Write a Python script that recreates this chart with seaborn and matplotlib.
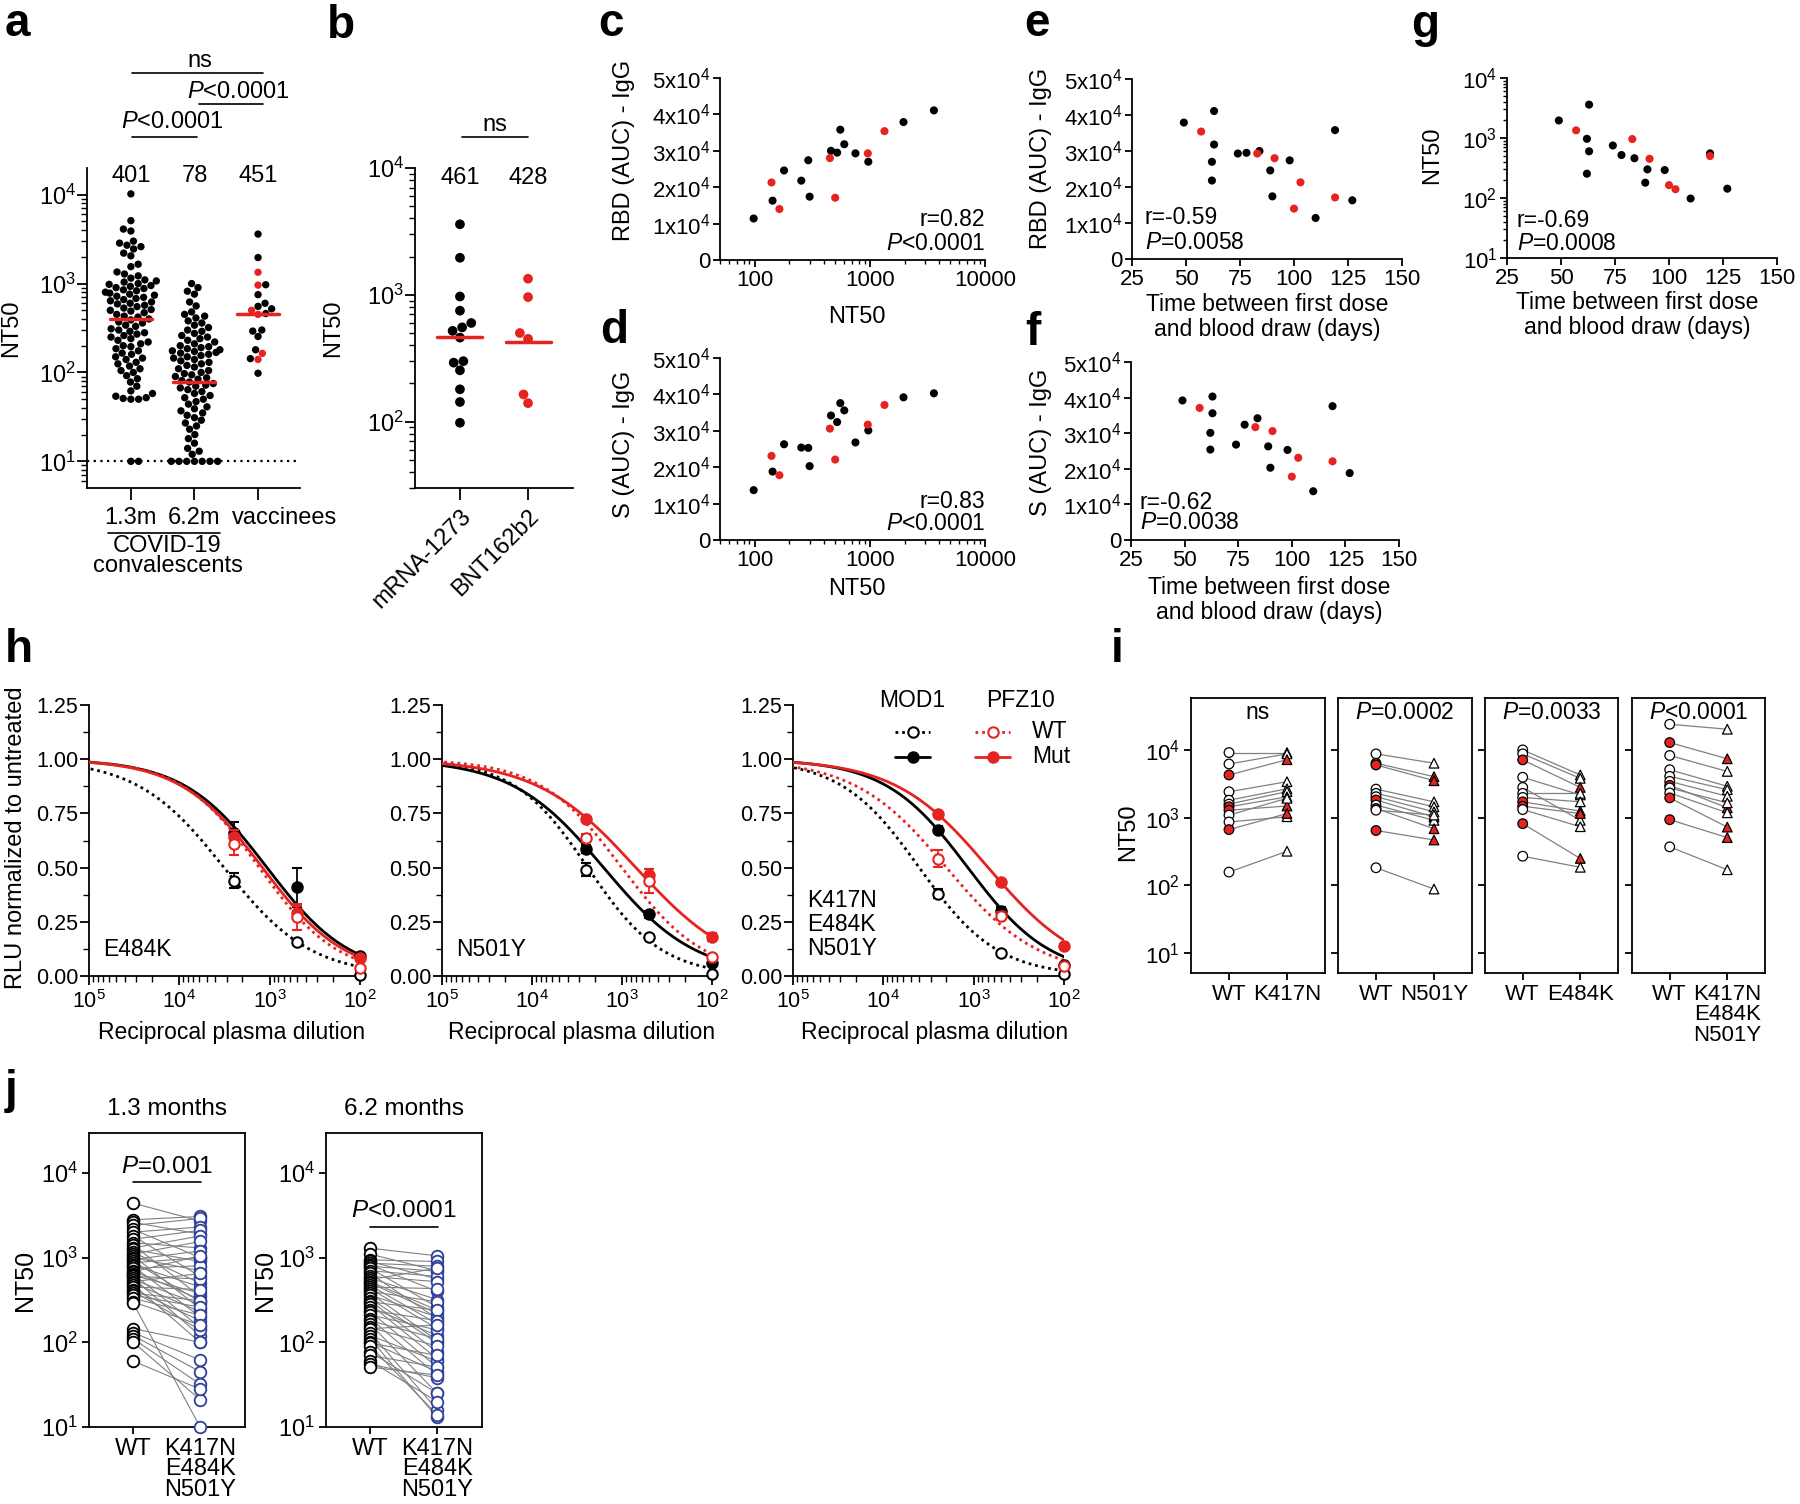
import warnings

import matplotlib
matplotlib.use("Agg")
import matplotlib.pyplot as plt
import matplotlib.ticker as mticker
import matplotlib.transforms as mtransforms
import numpy as np
import pandas as pd
import seaborn as sns
from matplotlib.lines import Line2D

warnings.filterwarnings("ignore")

RED = "#e52421"
BLUE = "#2f4099"
GREY = "#808080"

# ---------------- data ----------------
# panel a: convalescent plasma NT50 at 1.3 and 6.2 months
conv_13m = [10200, 5100, 4100, 3900, 3000, 2850, 2700, 2600, 2450, 2200, 2050, 1650, 1550,
            1350, 1280, 1220, 1150, 1100, 1070, 1040, 1000, 980, 950, 930, 900, 880, 850,
            830, 800, 780, 760, 740, 720, 700, 680, 660, 640, 620, 600, 590, 570, 550, 530,
            510, 500, 490, 470, 450, 430, 420, 400, 390, 370, 360, 340, 330, 310, 300, 290,
            280, 270, 260, 250, 240, 230, 220, 210, 200, 195, 185, 175, 165, 160, 150, 145,
            140, 130, 125, 118, 110, 105, 100, 92, 85, 78, 70, 62, 58, 54, 52, 51, 50, 50,
            10, 10]
conv_62m = [1000, 900, 820, 760, 620, 560, 480, 450, 430, 410, 380, 360, 340, 320, 300, 290,
            275, 260, 250, 240, 230, 220, 210, 200, 195, 190, 185, 180, 175, 172, 168, 165,
            160, 155, 150, 145, 140, 135, 130, 125, 120, 115, 110, 105, 100, 97, 94, 90, 87,
            84, 81, 78, 75, 72, 70, 67, 64, 61, 58, 55, 52, 50, 47, 44, 41, 39, 37, 35, 33,
            31, 29, 27, 25, 23, 20, 18, 16, 14, 13, 12, 10, 10, 10, 10, 10, 10, 10]
a_groups = ["1.3m", "6.2m", "vaccinees"]
a_gm = [401, 78, 451]

# vaccinees, one entry per volunteer (panels a-g)
vac_type = ["mRNA-1273"] * 14 + ["BNT162b2"] * 6
vac_days = [49, 63, 62, 63, 62, 74, 78, 84, 89, 90, 98, 110, 119, 127,
            57, 83, 91, 100, 103, 119]
vac_nt50 = [1960, 3600, 970, 600, 254, 750, 520, 460, 180, 300, 292, 98, 554, 143,
            1340, 960, 450, 164, 140, 500]
vac_rbd = [37900, 41100, 27000, 31800, 21800, 29300, 29500, 30000, 24600, 17400, 27400,
           11400, 35800, 16300, 35400, 29300, 28000, 14000, 21300, 17100]
vac_s = [39200, 40300, 30100, 35600, 25400, 26800, 32400, 34200, 26300, 20300, 25300,
         13700, 37600, 18800, 37100, 31700, 30600, 17800, 23100, 22100]
b_groups = ["mRNA-1273", "BNT162b2"]
b_gm = [461, 428]
stats_c = ["r=0.82", "$P$<0.0001"]
stats_d = ["r=0.83", "$P$<0.0001"]
stats_e = ["r=-0.59", "$P$=0.0058"]
stats_f = ["r=-0.62", "$P$=0.0038"]
stats_g = ["r=-0.69", "$P$=0.0008"]

# panel h: neutralisation curves, dilutions 2500, 500, 100
h_dil = [2500, 500, 100]
h_names = ["E484K", "N501Y", "K417N\nE484K\nN501Y"]
mod1_wt = [[0.44, 0.155, 0.005], [0.49, 0.18, 0.01], [0.38, 0.107, 0.01]]
mod1_wt_sem = [[0.035, 0.01, 0.005], [0.03, 0.01, 0.005], [0.02, 0.01, 0.005]]
mod1_mut = [[0.66, 0.41, 0.09], [0.586, 0.284, 0.06], [0.675, 0.30, 0.05]]
mod1_mut_sem = [[0.05, 0.09, 0.01], [0.02, 0.015, 0.01], [0.015, 0.02, 0.01]]
pfz_wt = [[0.607, 0.274, 0.035], [0.636, 0.437, 0.087], [0.541, 0.276, 0.046]]
pfz_wt_sem = [[0.05, 0.06, 0.01], [0.02, 0.055, 0.01], [0.04, 0.02, 0.01]]
pfz_mut = [[0.643, 0.292, 0.085], [0.724, 0.465, 0.18], [0.747, 0.433, 0.138]]
pfz_mut_sem = [[0.03, 0.03, 0.01], [0.01, 0.03, 0.02], [0.01, 0.01, 0.01]]
# fitted curves (NT50, hill slope)
mod1_wt_fit = [(3200, 0.9), (2400, 1.05), (4000, 1.0)]
mod1_mut_fit = [(1070, 0.94), (1600, 0.85), (1160, 0.95)]
pfz_wt_fit = [(1300, 1.0), (1000, 0.95), (2000, 0.85)]
pfz_mut_fit = [(1200, 0.95), (700, 0.78), (690, 0.84)]

# panel i: paired NT50, WT vs mutant pseudovirus (1 = BNT162b2 volunteer)
i_mutants = ["K417N", "N501Y", "E484K", "K417N\nE484K\nN501Y"]
i_pvals = ["ns", "$P$=0.0002", "$P$=0.0033", "$P$<0.0001"]
i_wt = [[9300, 6300, 4330, 2440, 1830, 1600, 1460, 1300, 1100, 870, 670, 157],
        [8900, 6470, 6100, 2670, 2310, 2060, 1840, 1550, 1380, 1300, 650, 182],
        [10200, 8900, 7250, 4000, 2830, 2310, 2010, 1730, 1490, 1330, 820, 270],
        [24500, 13100, 8430, 5180, 4130, 3480, 3040, 2780, 2340, 1980, 940, 372]]
i_mut = [[9300, 8900, 7300, 3440, 2700, 2450, 2050, 1500, 1950, 1040, 1160, 320],
         [6470, 4090, 3560, 1730, 1460, 1230, 1030, 920, 690, 1100, 470, 88],
         [4330, 3860, 2830, 2190, 920, 2310, 1730, 1260, 1160, 740, 250, 185],
         [20650, 7530, 4890, 2940, 2620, 2090, 1410, 1670, 1190, 730, 510, 170]]
i_bnt = [[0, 0, 1, 0, 0, 0, 1, 1, 0, 0, 1, 0],
         [0, 1, 1, 0, 0, 0, 1, 0, 1, 0, 1, 0],
         [0, 0, 1, 0, 0, 0, 0, 1, 1, 0, 1, 0],
         [0, 1, 0, 0, 0, 0, 1, 0, 0, 1, 1, 0]]

# panel j: convalescents WT vs K417N/E484K/N501Y
j_titles = ["1.3 months", "6.2 months"]
j_pvals = ["$P$=0.001", "$P$<0.0001"]
j13_wt = [4400, 2800, 2600, 2400, 2150, 2000, 1800, 1650, 1500, 1400, 1300, 1250, 1150, 1100,
          1050, 1000, 950, 900, 870, 820, 790, 750, 700, 680, 640, 620, 600, 570, 550, 520,
          500, 480, 450, 420, 400, 380, 360, 330, 300, 290, 145, 130, 120, 110, 100, 60]
j13_mut = [2700, 3060, 1900, 2900, 1000, 2300, 600, 2100, 1300, 350, 1800, 900, 500, 1550,
           250, 700, 1200, 300, 1000, 450, 200, 800, 320, 1050, 150, 380, 560, 120, 280, 650,
           230, 100, 420, 180, 140, 310, 260, 210, 160, 10, 100, 62, 45, 32, 21, 28]
j62_wt = [1290, 1100, 940, 900, 860, 820, 790, 750, 700, 650, 600, 570, 550, 520, 500, 470,
          450, 430, 400, 380, 360, 330, 310, 300, 280, 260, 240, 230, 210, 190, 180, 165,
          150, 145, 130, 120, 110, 100, 98, 90, 77, 70, 60, 55, 51]
j62_mut = [1050, 700, 900, 560, 790, 400, 690, 260, 600, 190, 520, 320, 750, 240, 220, 165,
           430, 145, 300, 105, 200, 98, 77, 240, 64, 120, 180, 51, 140, 41, 110, 25, 90, 160,
           16, 60, 13, 45, 70, 14, 25, 51, 20, 38, 41]

# ---------------- style ----------------
sns.set_theme(style="ticks", rc={
    "axes.edgecolor": "black", "axes.labelcolor": "black", "text.color": "black",
    "xtick.color": "black", "ytick.color": "black", "axes.linewidth": 1.3,
})
plt.rcParams["font.family"] = ["Liberation Sans", "DejaVu Sans"]
plt.rcParams["mathtext.fontset"] = "custom"
plt.rcParams["mathtext.rm"] = "Liberation Sans"
plt.rcParams["mathtext.it"] = "Liberation Sans:italic"
plt.rcParams["mathtext.bf"] = "Liberation Sans:bold"

W, H = 1800, 1504
fig = plt.figure(figsize=(18, 15.04), dpi=100)
vac_pal = {"conv": "black", "mRNA-1273": "black", "BNT162b2": RED}


def add_ax(l, t, r, b):
    return fig.add_axes([l / W, 1 - b / H, (r - l) / W, (b - t) / H])


def ylab(ax, text, x, y, size=17):
    ax.set_ylabel(text, fontsize=size, va="center", ha="center")
    ax.yaxis.set_label_coords(x / W, 1 - y / H, transform=fig.transFigure)


def xlab(ax, text, x, y, size=16, **kw):
    ax.set_xlabel(text, fontsize=size, va="center", ha="center", **kw)
    ax.xaxis.set_label_coords(x / W, 1 - y / H, transform=fig.transFigure)


def letter(ch, x, y):
    fig.text(x / W, 1 - y / H, ch, fontsize=33, fontweight="bold", va="baseline", ha="left")


def ticks(ax, major=5, minor=3, size=16, pad=2):
    ax.tick_params(which="major", length=major, width=1.3, labelsize=size, pad=pad)
    ax.tick_params(which="minor", length=minor, width=1.0)


def log_minor(axis):
    axis.set_minor_locator(mticker.LogLocator(base=10, subs=np.arange(2, 10), numticks=100))
    axis.set_minor_formatter(mticker.NullFormatter())


def sci_labels(vals):
    return ["0" if v == 0 else f"{int(v / 1e4)}x10$^{{4}}$" for v in vals]


def bracket(ax, x0, x1, yl, xt, yt, text, size=17):
    tr = mtransforms.blended_transform_factory(ax.transData, ax.transAxes)
    ax.plot([x0, x1], [yl, yl], transform=tr, color="black", lw=1.2, clip_on=False)
    ax.text(xt, yt, text, transform=tr, ha="center", va="center", fontsize=size)


# ---------------- a ----------------
ax = add_ax(87, 168, 300, 488)
ax.set_yscale("log")
df_a = pd.DataFrame({
    "group": ["1.3m"] * len(conv_13m) + ["6.2m"] * len(conv_62m) + ["vaccinees"] * len(vac_nt50),
    "nt50": conv_13m + conv_62m + vac_nt50,
    "kind": ["conv"] * (len(conv_13m) + len(conv_62m)) + vac_type,
})
sns.swarmplot(data=df_a, x="group", y="nt50", hue="kind", order=a_groups, palette=vac_pal,
              size=5.3, legend=False, ax=ax, zorder=3)
ax.set_xlim(-0.69, 2.66)
ax.set_ylim(10 ** 0.7, 10 ** 4.3)
ax.axhline(10, color="black", ls=(0, (1, 2)), lw=1.6, zorder=1)
tr = mtransforms.blended_transform_factory(ax.transData, ax.transAxes)
for i, gm in enumerate(a_gm):
    ax.plot([i - 0.33, i + 0.33], [gm, gm], color=RED, lw=2.5, zorder=4)
    ax.text(i, 0.975, str(gm), transform=tr, ha="center", va="center", fontsize=17)
bracket(ax, 0.02, 1.04, 1.097, 0.65, 1.144, "$P$<0.0001")
bracket(ax, 1.07, 2.08, 1.2, 1.69, 1.2375, "$P$<0.0001")
bracket(ax, 0.02, 2.08, 1.297, 1.08, 1.334, "ns")
ax.set_yticks([10, 100, 1000, 10000])
log_minor(ax.yaxis)
ax.set_xticks([0, 1, 2])
ax.set_xticklabels(a_groups)
ax.set_xlabel("")
ticks(ax, major=7, minor=4, size=17, pad=1)
ax.tick_params(axis="x", length=8.5, pad=5)
# "vaccinees" sits to the right of its tick, as in the original layout
vac_lbl = ax.get_xticklabels()[2]
vac_lbl.set_ha("left")
vac_lbl.set_transform(vac_lbl.get_transform()
                      + mtransforms.ScaledTranslation(-0.26, 0, fig.dpi_scale_trans))
sns.despine(ax=ax)
ylab(ax, "NT50", 11, 328)
fig.add_artist(Line2D([108 / W, 220 / W], [1 - 533 / H] * 2, transform=fig.transFigure,
                      color="black", lw=1.2))
fig.text(167 / W, 1 - 546 / H, "COVID-19", fontsize=17, ha="center", va="center")
fig.text(168 / W, 1 - 566 / H, "convalescents", fontsize=17, ha="center", va="center")
letter("a", 5, 36)

# ---------------- b ----------------
ax = add_ax(415, 168, 573, 488)
ax.set_yscale("log")
df_b = pd.DataFrame({"vaccine": vac_type, "nt50": vac_nt50})
sns.swarmplot(data=df_b, x="vaccine", y="nt50", hue="vaccine", order=b_groups, palette=vac_pal,
              size=7, legend=False, ax=ax, zorder=3)
ax.set_xlim(-0.66, 1.66)
ax.set_ylim(30, 10000)
tr = mtransforms.blended_transform_factory(ax.transData, ax.transAxes)
for i, gm in enumerate(b_gm):
    ax.plot([i - 0.33, i + 0.33], [gm, gm], color=RED, lw=2.5, zorder=4)
    ax.text(i, 0.969, str(gm), transform=tr, ha="center", va="center", fontsize=17)
bracket(ax, 0.03, 1.0, 1.097, 0.51, 1.134, "ns")
ax.set_yticks([100, 1000, 10000])
log_minor(ax.yaxis)
ax.set_xticks([0, 1])
ax.set_xticklabels(b_groups, rotation=45, ha="right", rotation_mode="anchor")
ax.set_xlabel("")
ticks(ax, major=7, minor=4, size=17, pad=1)
ax.tick_params(axis="x", length=8.5, pad=4)
sns.despine(ax=ax)
ylab(ax, "NT50", 333, 328)
letter("b", 327, 38)


# ---------------- c-g ----------------
def corr_panel(box, x, y, stats, stats_pos, right_align, log_x, log_y):
    ax = add_ax(*box)
    if log_x:
        ax.set_xscale("log")
    if log_y:
        ax.set_yscale("log")
    sns.scatterplot(x=x, y=y, hue=vac_type, palette=vac_pal, s=34, edgecolor="none",
                    legend=False, ax=ax, zorder=3)
    ha = "right" if right_align else "left"
    for txt, (sx, sy) in zip(stats, stats_pos):
        ax.text(sx, sy, txt, transform=ax.transAxes, ha=ha, va="center", fontsize=16.5)
    sns.despine(ax=ax)
    return ax


for box, yv, stats, pos, ylabel_txt, ylab_y, xlab_y in [
    ((720, 78, 985, 260), vac_rbd, stats_c, [(1.0, 0.225), (1.0, 0.093)], "RBD (AUC) - IgG", 150, 317),
    ((720, 358, 985, 540), vac_s, stats_d, [(1.0, 0.209), (1.0, 0.088)], "S (AUC) - IgG", 444, 589),
]:
    ax = corr_panel(box, vac_nt50, yv, stats, pos, True, True, False)
    ax.set_xlim(50, 10000)
    ax.set_ylim(0, 50000)
    ax.set_xticks([100, 1000, 10000])
    ax.set_xticklabels(["100", "1000", "10000"])
    log_minor(ax.xaxis)
    ax.set_yticks([0, 10000, 20000, 30000, 40000, 50000])
    ax.set_yticklabels(sci_labels([0, 10000, 20000, 30000, 40000, 50000]))
    ticks(ax, major=5, minor=3, size=16, pad=2)
    ylab(ax, ylabel_txt, 624, ylab_y)
    xlab(ax, "NT50", 857, xlab_y, size=17)

for box, yv, stats, pos, ylabel_txt, ylab_y, xlab_x, xlab_y in [
    ((1132, 79, 1402, 259), vac_rbd, stats_e, [(0.048, 0.228), (0.048, 0.089)], "RBD (AUC) - IgG", 158, 1267, 317),
    ((1131, 362, 1399, 540), vac_s, stats_f, [(0.033, 0.213), (0.033, 0.096)], "S (AUC) - IgG", 442, 1269, 600),
]:
    ax = corr_panel(box, vac_days, yv, stats, pos, False, False, False)
    ax.set_xlim(25, 150)
    ax.set_ylim(0, 50000)
    ax.set_xticks([25, 50, 75, 100, 125, 150])
    ax.set_yticks([0, 10000, 20000, 30000, 40000, 50000])
    ax.set_yticklabels(sci_labels([0, 10000, 20000, 30000, 40000, 50000]))
    ticks(ax, major=5, minor=3, size=16, pad=2)
    ylab(ax, ylabel_txt, 1041, ylab_y)
    xlab(ax, "Time between first dose\nand blood draw (days)", xlab_x, xlab_y, size=16.5,
         linespacing=1.15)

ax = corr_panel((1507, 78, 1777, 258), vac_days, vac_nt50, stats_g,
                [(0.037, 0.211), (0.037, 0.083)], False, False, True)
ax.set_xlim(25, 150)
ax.set_ylim(10, 10000)
ax.set_xticks([25, 50, 75, 100, 125, 150])
ax.set_yticks([10, 100, 1000, 10000])
log_minor(ax.yaxis)
ticks(ax, major=5, minor=3, size=16, pad=2)
ylab(ax, "NT50", 1432, 155)
xlab(ax, "Time between first dose\nand blood draw (days)", 1637, 315, size=16.5, linespacing=1.15)

letter("c", 598, 36)
letter("d", 600, 343)
letter("e", 1024, 36)
letter("f", 1025, 345)
letter("g", 1411, 37)

# ---------------- h ----------------
dgrid = np.logspace(2, 5, 300)
h_boxes = [(89, 705, 360, 976), (442, 705, 712, 976), (793, 705, 1064, 976)]
for k, box in enumerate(h_boxes):
    ax = add_ax(*box)
    ax.set_xscale("log")
    series = [
        (mod1_mut_fit[k], mod1_mut[k], mod1_mut_sem[k], "black", "-", True),
        (mod1_wt_fit[k], mod1_wt[k], mod1_wt_sem[k], "black", (0, (1, 1.4)), False),
        (pfz_mut_fit[k], pfz_mut[k], pfz_mut_sem[k], RED, "-", True),
        (pfz_wt_fit[k], pfz_wt[k], pfz_wt_sem[k], RED, (0, (1, 1.4)), False),
    ]
    for z, ((ic50, hill), mean, sem, col, ls, filled) in enumerate(series):
        curve = 1 / (1 + (ic50 / dgrid) ** hill)
        sns.lineplot(x=dgrid, y=curve, color=col, linestyle=ls, linewidth=2.0, ax=ax,
                     zorder=2 + z)
        eb = ax.errorbar(h_dil, mean, yerr=sem, fmt="o", ms=7.5,
                         mfc=col if filled else "white", mec=col, mew=1.5, ecolor=col,
                         elinewidth=1.3, capsize=3.5, capthick=1.3, zorder=6 + z)
        for art in eb.get_children():
            art.set_clip_on(False)
    ax.set_xlim(1e5, 1e2)
    ax.set_ylim(0, 1.25)
    ax.set_xticks([1e5, 1e4, 1e3, 1e2])
    log_minor(ax.xaxis)
    ax.set_yticks([0, 0.25, 0.5, 0.75, 1.0, 1.25])
    ax.yaxis.set_major_formatter(mticker.FormatStrFormatter("%.2f"))
    ax.yaxis.set_minor_locator(mticker.MultipleLocator(0.125))
    ticks(ax, major=6.5, minor=4, size=15.5, pad=1)
    ax.tick_params(axis="x", pad=4)
    sns.despine(ax=ax)
    ax.text(0.052, 0.096 if k < 2 else 0.19, h_names[k], transform=ax.transAxes, ha="left",
            va="center", fontsize=16.5, linespacing=1.05)
    xlab(ax, "Reciprocal plasma dilution", [232, 582, 935][k], 1032, size=16.5)
    if k == 0:
        ylab(ax, "RLU normalized to untreated", 16, 838, size=17)
    else:
        ax.set_ylabel("")

# legend of h
fig.text(912 / W, 1 - 700 / H, "MOD1", fontsize=16.5, ha="center", va="center")
fig.text(1021 / W, 1 - 700 / H, "PFZ10", fontsize=16.5, ha="center", va="center")
for (x0, x1), col in [((895, 930), "black"), ((975, 1010), RED)]:
    for y, ls, filled in [(732, (0, (1, 1.4)), False), (757, "-", True)]:
        fig.add_artist(Line2D([x0 / W, x1 / W], [1 - y / H] * 2, transform=fig.transFigure,
                              color=col, ls=ls, lw=2.0))
        fig.add_artist(Line2D([(x0 + x1) / 2 / W], [1 - y / H], transform=fig.transFigure,
                              marker="o", ms=7.5, mfc=col if filled else "white", mec=col,
                              mew=1.5, ls="none"))
fig.text(1032 / W, 1 - 732 / H, "WT", fontsize=16.5, ha="left", va="center")
fig.text(1032 / W, 1 - 757 / H, "Mut", fontsize=16.5, ha="left", va="center")
letter("h", 5, 662)

# ---------------- i ----------------
i_boxes = [(1191, 698, 1325, 973), (1338, 698, 1472, 973), (1485, 698, 1618, 973),
           (1632, 698, 1765, 973)]
for k, box in enumerate(i_boxes):
    ax = add_ax(*box)
    ax.set_yscale("log")
    n = len(i_wt[k])
    kind = ["red" if b else "open" for b in i_bnt[k]]
    df_i = pd.DataFrame({"pid": list(range(n)) * 2, "pos": [0] * n + [1] * n,
                         "nt50": i_wt[k] + i_mut[k], "kind": kind * 2})
    sns.lineplot(data=df_i, x="pos", y="nt50", units="pid", estimator=None, color=GREY,
                 linewidth=0.9, legend=False, ax=ax, zorder=1)
    sns.scatterplot(data=df_i, x="pos", y="nt50", hue="kind", style="pos",
                    markers={0: "o", 1: "^"}, palette={"open": "white", "red": RED},
                    edgecolor="black", linewidth=0.9, s=48, legend=False, ax=ax, zorder=3)
    ax.set_xlim(-0.655, 1.655)
    ax.set_ylim(5, 60000)
    ax.set_xticks([0, 1])
    ax.set_xticklabels(["WT", i_mutants[k]], linespacing=0.95)
    ax.set_yticks([10, 100, 1000, 10000])
    ax.yaxis.set_minor_locator(mticker.NullLocator())
    ticks(ax, major=5, size=16, pad=3)
    ax.set_xlabel("")
    ax.text(0.5, 0.949, i_pvals[k], transform=ax.transAxes, ha="center", va="center",
            fontsize=16.5)
    if k == 0:
        ylab(ax, "NT50", 1128, 832)
    else:
        ax.set_ylabel("")
        ax.tick_params(labelleft=False)
letter("i", 1111, 662)

# ---------------- j ----------------
j_boxes = [(89, 1133, 245, 1427), (326, 1133, 482, 1427)]
j_data = [(j13_wt, j13_mut), (j62_wt, j62_mut)]
j_ptext = [(0.884, 0.833), (0.735, 0.680)]
for k, box in enumerate(j_boxes):
    ax = add_ax(*box)
    ax.set_yscale("log")
    wt, mut = j_data[k]
    n = len(wt)
    df_j = pd.DataFrame({"pid": list(range(n)) * 2, "pos": [0] * n + [1] * n,
                         "nt50": wt + mut})
    sns.lineplot(data=df_j, x="pos", y="nt50", units="pid", estimator=None, color=GREY,
                 linewidth=0.8, legend=False, ax=ax, zorder=1)
    sns.scatterplot(x=[0] * n, y=wt, color="white", edgecolor="black", linewidth=1.3, s=70,
                    legend=False, ax=ax, zorder=3)
    sns.scatterplot(x=[1] * n, y=mut, color="white", edgecolor=BLUE, linewidth=1.3, s=70,
                    legend=False, ax=ax, zorder=3)
    for art in ax.collections:
        art.set_clip_on(False)
    ax.set_xlim(-0.66, 1.67)
    ax.set_ylim(10, 29600)
    ax.set_xticks([0, 1])
    ax.set_xticklabels(["WT", "K417N\nE484K\nN501Y"], linespacing=0.9)
    ax.set_yticks([10, 100, 1000, 10000])
    ax.yaxis.set_minor_locator(mticker.NullLocator())
    ticks(ax, major=5, size=17, pad=3)
    ax.set_xlabel("")
    yt, yl = j_ptext[k]
    bracket(ax, 0.0, 1.02, yl, 0.5, yt, j_pvals[k], size=17.5)
    ax.text(0.5, 1.082, j_titles[k], transform=ax.transAxes, ha="center", va="center",
            fontsize=17.5)
    ylab(ax, "NT50", [25, 265][k], 1280, size=18)
letter("j", 5, 1103)

fig.savefig("out.png", dpi=100)
